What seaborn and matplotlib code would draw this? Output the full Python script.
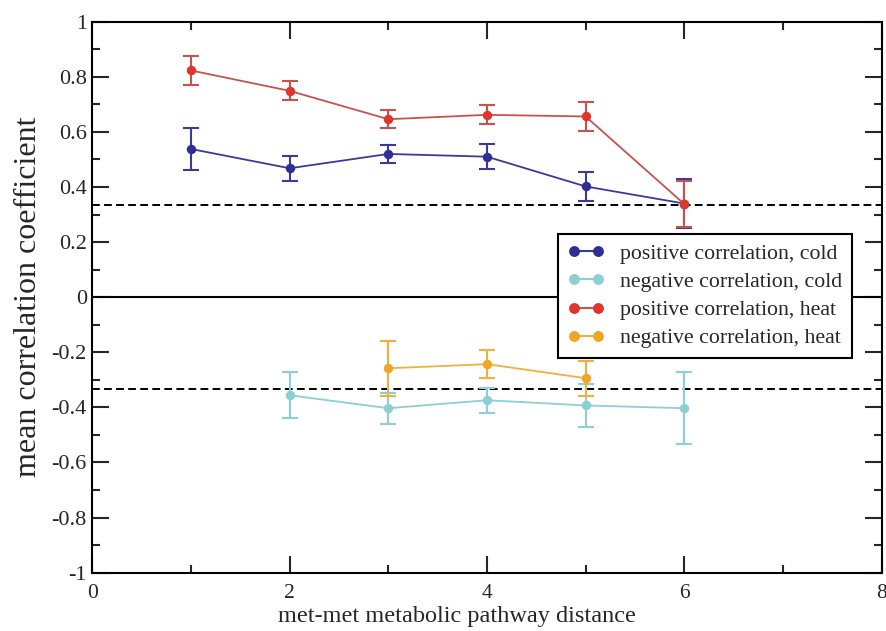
import numpy as np
import pandas as pd
import matplotlib
matplotlib.use("Agg")
import matplotlib.pyplot as plt
import seaborn as sns
from matplotlib.ticker import MultipleLocator, FuncFormatter
from matplotlib.lines import Line2D

# ---- data ----
x_pos_cold = [1, 2, 3, 4, 5, 6]
y_pos_cold = [0.538, 0.468, 0.520, 0.510, 0.402, 0.340]
e_pos_cold = [0.077, 0.046, 0.033, 0.045, 0.053, 0.090]

x_neg_cold = [2, 3, 4, 5, 6]
y_neg_cold = [-0.356, -0.403, -0.374, -0.393, -0.403]
e_neg_cold = [0.083, 0.057, 0.046, 0.077, 0.130]

x_pos_heat = [1, 2, 3, 4, 5, 6]
y_pos_heat = [0.823, 0.749, 0.646, 0.662, 0.656, 0.338]
e_pos_heat = [0.051, 0.035, 0.033, 0.035, 0.053, 0.082]

x_neg_heat = [3, 4, 5]
y_neg_heat = [-0.258, -0.243, -0.294]
e_neg_heat = [0.100, 0.050, 0.063]

labels = ["positive correlation, cold", "negative correlation, cold",
          "positive correlation, heat", "negative correlation, heat"]
colors = ["#2e2e96", "#8ccfd4", "#e0352b", "#f0a526"]
line_colors = ["#3a3a9a", "#8ccfd4", "#c8524e", "#f0b040"]
threshold = 1 / 3

series = [
    (x_pos_cold, y_pos_cold, e_pos_cold),
    (x_neg_cold, y_neg_cold, e_neg_cold),
    (x_pos_heat, y_pos_heat, e_pos_heat),
    (x_neg_heat, y_neg_heat, e_neg_heat),
]

frames = []
for lab, (xs, ys, es) in zip(labels, series):
    frames.append(pd.DataFrame({"x": xs, "y": ys, "err": es, "series": lab}))
df = pd.concat(frames, ignore_index=True)

sns.set_style("ticks")
plt.rcParams["font.family"] = ["Liberation Serif", "DejaVu Serif"]

fig = plt.figure(figsize=(8.86, 6.31), dpi=100)
ax = fig.add_axes([0.1042, 0.0924, 0.8909, 0.8732])

ax.axhline(0, color="black", lw=1.5, zorder=1)
ax.axhline(threshold, color="black", lw=1.4, ls=(0, (4, 2.2)), zorder=1)
ax.axhline(-threshold, color="black", lw=1.4, ls=(0, (4, 2.2)), zorder=1)

for lab, lc in zip(labels, line_colors):
    sub = df[df["series"] == lab]
    ax.errorbar(sub["x"], sub["y"], yerr=sub["err"], fmt="none", ecolor=lc,
                elinewidth=1.5, capsize=6, capthick=1.5, zorder=2)

sns.lineplot(data=df, x="x", y="y", hue="series", hue_order=labels,
             palette=dict(zip(labels, line_colors)), marker="o",
             markersize=6.8, markeredgewidth=0, lw=1.3, ax=ax, legend=False,
             estimator=None, sort=True, zorder=3)
for line, c in zip(ax.get_lines()[-4:], colors):
    line.set_markerfacecolor(c)
    line.set_markeredgecolor(c)

ax.set_xlim(0, 8)
ax.set_ylim(-1, 1)
ax.xaxis.set_major_locator(MultipleLocator(2))
ax.xaxis.set_minor_locator(MultipleLocator(1))
ax.yaxis.set_major_locator(MultipleLocator(0.2))
ax.yaxis.set_minor_locator(MultipleLocator(0.1))
ax.yaxis.set_major_formatter(FuncFormatter(
    lambda v, p: "0" if abs(v) < 1e-9 else ("%g" % round(v, 1))))
ax.tick_params(which="both", direction="in", top=True, right=True,
               width=1.5, labelsize=16)
ax.tick_params(axis="x", which="both", pad=8, labelsize=15.5)
ax.tick_params(axis="y", which="both", pad=4)
ax.tick_params(which="major", length=12)
ax.tick_params(which="minor", length=6)
for s in ax.spines.values():
    s.set_linewidth(1.5)
    s.set_color("black")

ax.set_xlabel("met-met metabolic pathway distance", fontsize=17.5)
ax.xaxis.set_label_coords(0.462, -0.061)
ax.set_ylabel("mean correlation coefficient", fontsize=23, labelpad=6)

handles = [Line2D([0], [0], color=lc, marker="o", markersize=6.8,
                  markerfacecolor=c, markeredgecolor=c, lw=1.5)
           for c, lc in zip(colors, line_colors)]
leg = ax.legend(handles, labels, loc="upper left",
                bbox_to_anchor=(0.590, 0.615), numpoints=2, fontsize=15.7,
                frameon=True, fancybox=False, edgecolor="black",
                handlelength=1.7, borderpad=0.45, labelspacing=0.36,
                handletextpad=0.7, borderaxespad=0)
leg.get_frame().set_linewidth(1.5)
leg.get_frame().set_alpha(1)

fig.savefig("out.png", dpi=100)
